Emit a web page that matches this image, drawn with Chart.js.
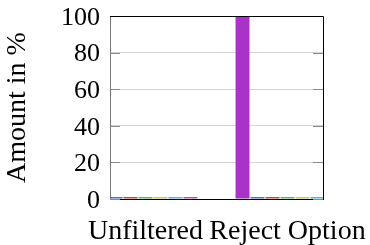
<!DOCTYPE html>
<html><head><meta charset="utf-8">
<script src="https://cdn.jsdelivr.net/npm/chart.js@4.4.0/dist/chart.umd.min.js"></script>
<style>html,body{margin:0;padding:0;background:#fff}</style>
</head><body><canvas id="c" width="370" height="245"></canvas>
<script>
const categories = ['Unfiltered', 'Reject Option'];
const seriesNames = ['Series 1', 'Series 2', 'Series 3', 'Series 4', 'Series 5', 'Series 6', 'Series 7'];
const seriesColors = ['#a833c6', '#4a6fcc', '#c94545', '#4fbf4f', '#c9c94a', '#45bfc9', '#c048c0'];
const series1 = [0, 100];
const series2 = [0, 0];
const series3 = [0, 0];
const series4 = [0, 0];
const series5 = [0, 0];
const series6 = [0, 0];
const series7 = [0, 0];
const seriesValues = [series1, series2, series3, series4, series5, series6, series7];
const yTicks = [0, 20, 40, 60, 80, 100];

const FONT = 'Liberation Serif';

const frame = {
  id: 'frame',
  beforeDatasetsDraw(chart) {
    const {ctx, chartArea: a, scales: {y}} = chart;
    ctx.save();
    ctx.strokeStyle = '#8a8a8a';
    ctx.lineWidth = 1;
    yTicks.forEach(v => {
      const py = Math.round(y.getPixelForValue(v)) + 0.5;
      ctx.beginPath();
      ctx.moveTo(a.left, py); ctx.lineTo(a.left + 10, py);
      ctx.moveTo(a.right - 10, py); ctx.lineTo(a.right, py);
      ctx.stroke();
    });
    ctx.restore();
  },
  afterDatasetsDraw(chart) {
    const {ctx, chartArea: a} = chart;
    ctx.save();
    ctx.strokeStyle = '#000';
    ctx.lineWidth = 1;
    ctx.beginPath();
    ctx.moveTo(a.left, Math.round(a.top) + 0.5);
    ctx.lineTo(Math.round(a.right) + 0.5, Math.round(a.top) + 0.5);
    ctx.lineTo(Math.round(a.right) + 0.5, a.bottom);
    ctx.stroke();
    ctx.restore();
  }
};

new Chart(document.getElementById('c'), {
  type: 'bar',
  data: {
    datasets: seriesNames.map((name, i) => ({
      label: name,
      data: seriesValues[i].map((v, j) => ({x: j, y: v})),
      backgroundColor: seriesColors[i],
      borderWidth: 0
    }))
  },
  options: {
    responsive: false,
    animation: false,
    devicePixelRatio: 1,
    layout: {padding: {left: 0, right: 47, top: 16, bottom: 0}},
    plugins: {legend: {display: false}, tooltip: {enabled: false}},
    datasets: {bar: {categoryPercentage: 0.739, barPercentage: 0.93, minBarLength: 2, clip: 0}},
    scales: {
      x: {
        type: 'linear', min: -0.25, max: 1.25, offset: false, bounds: 'data',
        afterBuildTicks: s => { s.ticks = categories.map((c, i) => ({value: i})); },
        ticks: {
          callback: v => categories[v] ?? '',
          autoSkip: false, maxRotation: 0, minRotation: 0,
          font: {family: FONT, size: 28}, color: '#000', padding: 16
        },
        grid: {display: false, drawTicks: false, offset: false},
        border: {color: '#000', width: 1},
        afterFit: s => { s.height = 46; s.paddingLeft = 0; s.paddingRight = 0; }
      },
      y: {
        min: 0, max: 100,
        afterBuildTicks: s => { s.ticks = yTicks.map(v => ({value: v})); },
        ticks: {font: {family: FONT, size: 26}, color: '#000', padding: 10, labelOffset: 2},
        grid: {color: '#d4d4d4', drawTicks: false},
        border: {color: '#777', width: 1},
        title: {display: true, text: 'Amount in %', font: {family: FONT, size: 28}, color: '#000', padding: {top: 1, bottom: 0}},
        afterFit: s => { s.width = 110; s.paddingTop = 0; s.paddingBottom = 0; }
      }
    }
  },
  plugins: [frame]
});
</script></body></html>
